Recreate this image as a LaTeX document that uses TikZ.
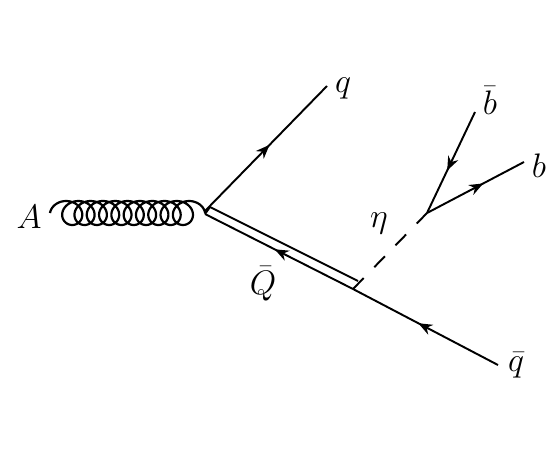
\documentclass[tikz,border=0pt]{standalone}
\usepackage{amsmath,amssymb}
\usepackage{xcolor}
\usepackage{tikz}
\usetikzlibrary{arrows.meta,decorations.markings}
\tikzset{
  lbl/.style={font=\LARGE,inner sep=0pt,scale=1.12,transform shape},
  ln/.style={line width=1.1pt,black},
  fm/.style={ln,postaction={decorate},decoration={markings,mark=at position #1 with {\arrow{Stealth[length=2.8mm,width=2.2mm]}}}},
  gluon/.style={ln,line width=1.25pt},
  scalar/.style={ln,dash pattern=on 8.67pt off 8.67pt}
}
\begin{document}
\begin{tikzpicture}[x=0.02cm,y=-0.02cm]
\useasboundingbox (0,0) rectangle (550,450);
% vertices
\coordinate (glu) at (50,213);
\coordinate (vtx) at (205,211);
\coordinate (vup) at (210,207);
\coordinate (vlo) at (205,214);
\coordinate (qend) at (327,86);
\coordinate (capup) at (358,281);
\coordinate (caplo) at (353,289);
\coordinate (qbend) at (498,365);
\coordinate (eta) at (427,213);
\coordinate (bbend) at (475,112);
\coordinate (bend) at (524,162);
% labels
\node[lbl] (lA) at (29,217) {$A$};
\node[lbl] (lq) at (343,88) {$q$};
\node[lbl] (lbb) at (490,100) {$\bar b$};
\node[lbl] (lb) at (539,166) {$b$};
\node[lbl] (leta) at (379,223) {$\eta$};
\node[lbl] (lQ) at (263,284) {$\bar Q$};
\node[lbl] (lqb) at (516,365) {$\bar q$};
% lines
\draw[gluon,shift={(glu)}] plot[domain=0:3780,samples=420,variable=\t]
  ({13+\t/360*12.3-13*cos(\t)},{-12*sin(\t)});
\draw[fm=0.53] (vtx) -- (qend);
\draw[ln] (vup) -- (capup);
\draw[ln] (vup) -- (vlo);
\draw[fm=0.53] (caplo) -- (vlo);
\draw[fm=0.55] (qbend) -- (caplo);
\draw[scalar] (caplo) -- (eta);
\draw[fm=0.58] (bbend) -- (eta);
\draw[fm=0.58] (eta) -- (bend);
\end{tikzpicture}
\end{document}
